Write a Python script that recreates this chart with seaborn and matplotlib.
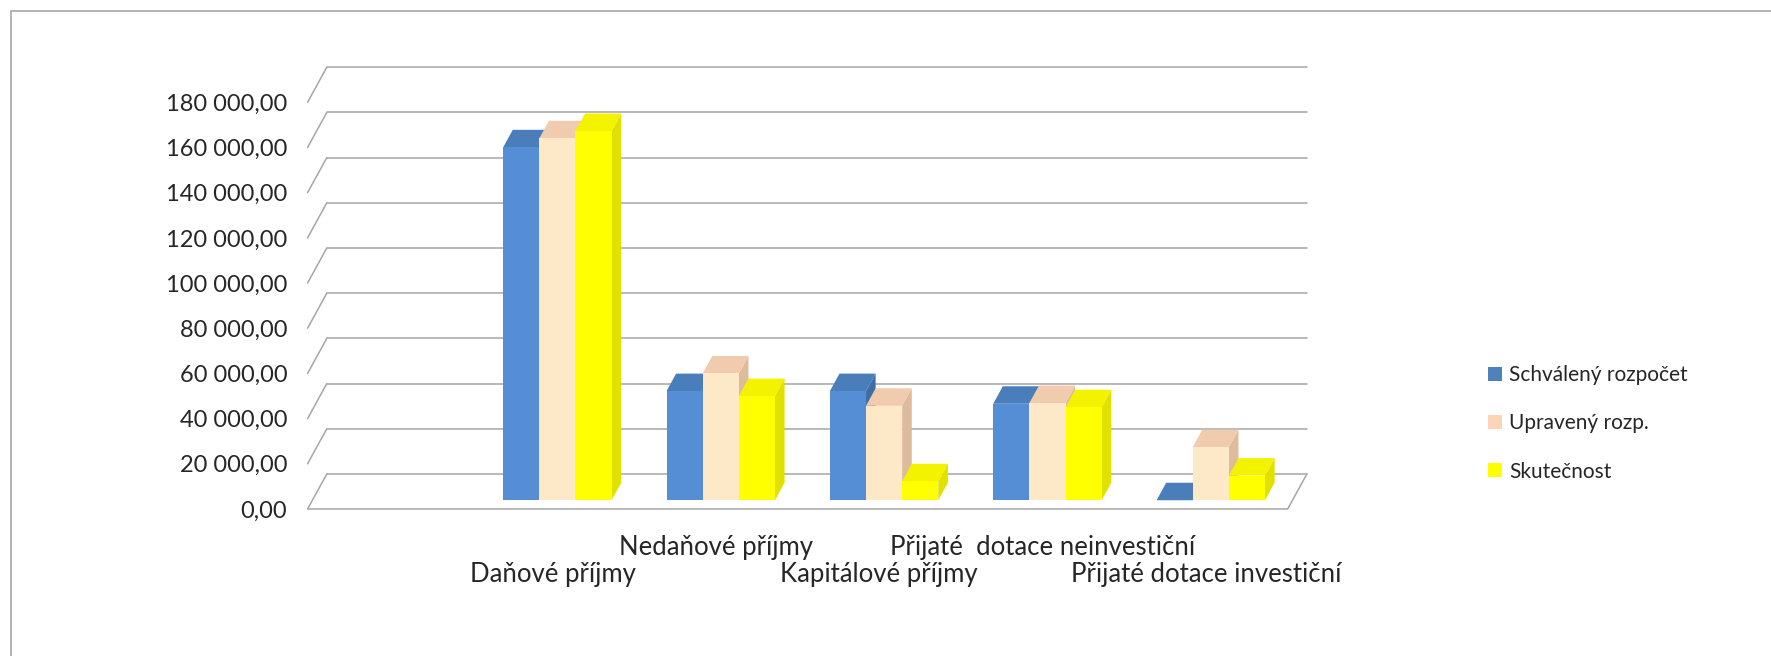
import pandas as pd
import matplotlib
matplotlib.use("Agg")
import matplotlib.pyplot as plt
import seaborn as sns
from matplotlib.patches import Polygon, Patch, Rectangle

categories = ["Daňové příjmy", "Nedaňové příjmy", "Kapitálové příjmy",
              "Přijaté  dotace neinvestiční", "Přijaté dotace investiční"]
series = ["Schválený rozpočet", "Upravený rozp.", "Skutečnost"]
schvaleny = [156200, 48300, 48300, 42700, 0]
upraveny = [160200, 56100, 41800, 43000, 23500]
skutecnost = [163400, 46100, 8400, 41200, 10900]
yticks = list(range(0, 180001, 20000))

front_colors = ["#558ED5", "#FDE8C8", "#FFFF00"]
top_colors = ["#4A7EBB", "#F0CBAD", "#F3F300"]
side_colors = ["#3F6DA8", "#DDBB9C", "#E1E100"]
legend_colors = ["#4F81BD", "#FBD5B5", "#FFFF00"]

df = pd.DataFrame({
    "category": categories * 3,
    "series": [s for s in series for _ in categories],
    "value": schvaleny + upraveny + skutecnost,
})

W, H = 1771, 656
fig = plt.figure(figsize=(W / 100, H / 100), dpi=100)
sns.set_style("white")
plt.rcParams["font.family"] = ["Lato", "DejaVu Sans"]

# axes placed in pixels; bar front plane is the data plane
px_cat = 163.35
px_unit = 45.19 / 20000
x0_px, base_px = 557.4, 500.25
left_px, right_px, top_px, bot_px = 290, 1330, 50, 509
ax = fig.add_axes([left_px / W, 1 - bot_px / H,
                   (right_px - left_px) / W, (bot_px - top_px) / H])

depth_x = 19.2 / px_cat          # full depth in category units
depth_y = 35.0 / px_unit         # full depth in value units


def off(d):
    # offset of depth d relative to the bar front plane (depth 0.25)
    return (d - 0.25) * depth_x, (d - 0.25) * depth_y


sns.barplot(data=df, x="category", y="value", hue="series", palette=front_colors,
            width=0.664, gap=0, saturation=1, linewidth=0, legend=False, ax=ax)

ax.set_xlim((left_px - x0_px) / px_cat, (right_px - x0_px) / px_cat)
ax.set_ylim((base_px - bot_px) / px_unit, (base_px - top_px) / px_unit)

grid_c = "#A6A6A6"
lw = 1.1
xa, xb = -1.5, 4.5
fx, fy = off(0)
bx, by = off(1)
# back wall gridlines and left wall diagonals
for v in yticks:
    ax.plot([xa + bx, xb + bx], [v + by, v + by], color=grid_c, lw=lw, zorder=1)
    ax.plot([xa + fx, xa + bx], [v + fy, v + by], color=grid_c, lw=lw, zorder=1)
# floor outline
ax.plot([xa + fx, xb + fx, xb + bx], [fy, fy, by], color=grid_c, lw=lw, zorder=1,
        clip_on=False)

# 3D faces for every bar
bdx, bdy = 0.5 * depth_x, 0.5 * depth_y
bars = sorted(ax.patches, key=lambda p: p.get_x())
for r, p in enumerate(bars):
    k = r % 3
    x0, w, h = p.get_x(), p.get_width(), p.get_height()
    x1 = x0 + w
    z = 3 + r * 0.1
    top = Polygon([(x0, h), (x1, h), (x1 + bdx, h + bdy), (x0 + bdx, h + bdy)],
                  closed=True, facecolor=top_colors[k], edgecolor="none", zorder=z)
    side = Polygon([(x1, 0), (x1, h), (x1 + bdx, h + bdy), (x1 + bdx, bdy)],
                   closed=True, facecolor=side_colors[k], edgecolor="none", zorder=z)
    ax.add_patch(side)
    ax.add_patch(top)
    p.set_zorder(z + 0.05)

# value axis labels on the front plane
ax.set_yticks([v + fy for v in yticks])
ax.set_yticklabels([f"{v:,.2f}".replace(",", " ").replace(".", ",") for v in yticks],
                   fontsize=17)

# category labels staggered in two rows: major ticks lower row, minor upper row
lower = [i for i in range(len(categories)) if i % 2 == 0]
upper = [i for i in range(len(categories)) if i % 2 == 1]
ax.set_xticks([i + fx for i in lower])
ax.set_xticklabels([categories[i] for i in lower], fontsize=18.5)
ax.set_xticks([i + fx for i in upper], minor=True)
ax.set_xticklabels([categories[i] for i in upper], minor=True, fontsize=18.5)
ax.tick_params(axis="y", length=0, pad=2)
ax.tick_params(axis="x", which="major", length=0, pad=38)
ax.tick_params(axis="x", which="minor", length=0, pad=18.5)
ax.set_xlabel("")
ax.set_ylabel("")
for s in ax.spines.values():
    s.set_visible(False)
ax.patch.set_alpha(0)

handles = [Patch(facecolor=c, edgecolor="none") for c in legend_colors]
fig.legend(handles, series, loc="center left", bbox_to_anchor=(1488 / W, 1 - 423.3 / H),
           frameon=False, fontsize=15, handlelength=0.65, handleheight=0.65,
           handletextpad=0.35, labelspacing=1.36, borderpad=0, borderaxespad=0)

fig.add_artist(Rectangle((10.5 / W, -0.2), 2, 1.2 - 10.5 / H, transform=fig.transFigure,
                         fill=False, edgecolor="#A6A6A6", lw=1.2))

fig.savefig("out.png", dpi=100)
